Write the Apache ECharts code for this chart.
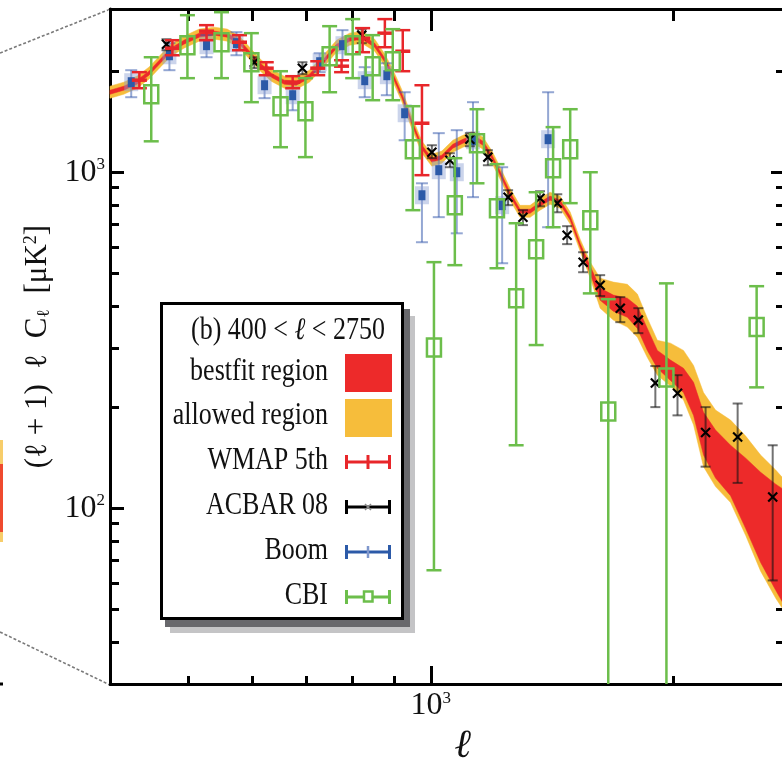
<!DOCTYPE html>
<html>
<head>
<meta charset="utf-8">
<script src="https://cdn.jsdelivr.net/npm/echarts@6/dist/echarts.min.js"></script>
<style>
html,body{margin:0;padding:0;background:#ffffff;}
#chart{width:782px;height:766px;}
</style>
</head>
<body>
<div id="chart"></div>
<script>
// ---------- axes ----------
const xMin = 400, xMax = 2750;
const yMin = 30, yMax = 3060;
const xTicksMajor = [1000];
const xTicksMinor = [500, 600, 700, 800, 900, 2000];
const yTicksMajor = [100, 1000];
const yTicksMinor = [40, 50, 60, 70, 80, 90, 200, 300, 400, 500, 600, 700, 800, 900, 2000];

// ---------- theory bands ----------
const bandEll = [400,416,432,447,463,476,494,516,539,559,579,596,613,634,658,681,707,734,764,793,821,852,877,897,920,947,975,1003,1032,1065,1096,1128,1161,1191,1219,1254,1290,1328,1366,1406,1447,1489,1532,1577,1622,1684,1753,1804,1856,1910,1983,2058,2118,2179,2255,2354,2458,2565,2678,2750];
const allowedHigh = [1803,1853,1931,2054,2245,2404,2540,2666,2702,2666,2540,2355,2184,2026,1931,1919,2012,2214,2471,2593,2628,2488,2245,2026,1766,1468,1237,1132,1156,1245,1288,1325,1271,1156,1035,896,797,797,837,872,848,761,632,540,484,471,464,434,368,316,310,295,266,221,196,183,164,144,130,121];
const bestfitHigh = [1754,1803,1879,1998,2184,2339,2471,2593,2629,2593,2471,2291,2125,1971,1879,1866,1958,2154,2404,2522,2557,2421,2184,1971,1718,1428,1203,1101,1124,1211,1253,1289,1237,1124,1007,872,776,776,814,849,825,740,614,525,452,431,422,399,343,295,276,261,237,193,171,154,141,128,118,113];
const bestfitLow = [1706,1754,1828,1944,2125,2276,2404,2523,2558,2523,2404,2229,2067,1918,1828,1816,1905,2096,2339,2454,2488,2356,2125,1918,1672,1390,1171,1071,1094,1179,1219,1254,1203,1094,979,848,755,755,792,826,803,720,598,497,416,386,370,343,295,261,240,221,189,144,123,109,87,69,57,51];
const allowedLow = [1660,1706,1778,1891,2067,2214,2339,2455,2488,2455,2339,2169,2011,1866,1778,1767,1853,2039,2275,2388,2420,2292,2067,1866,1627,1352,1139,1042,1064,1147,1186,1220,1171,1064,953,825,734,734,771,803,781,701,582,484,394,363,346,323,281,249,231,210,177,133,116,104,83,65,54,49];

// ---------- data sets ----------
const wmapEll  = [435, 478, 527, 579, 625, 674, 724, 775, 823, 877, 923, 975];
const wmapVal  = [1879, 2339, 2629, 2437, 2040, 1853, 2040, 2068, 2505, 2593, 2291, 1399];
const wmapHigh = [1985, 2471, 2739, 2558, 2125, 1931, 2139, 2154, 2684, 2855, 2647, 1815];
const wmapLow  = [1778, 2229, 2471, 2307, 1944, 1778, 1944, 1985, 2276, 2355, 1998, 980];

const acbarEll  = [470, 604, 693, 821, 1003, 1056, 1118, 1177, 1247, 1301, 1366, 1435, 1476, 1545, 1622, 1718, 1809, 1899, 2023, 2192, 2402, 2655];
const acbarVal  = [2404, 2125, 2040, 2558, 1147, 1086, 1254, 1109, 843, 735, 837, 809, 649, 540, 461, 394, 363, 236, 220, 168, 163, 108];
const acbarHigh = [2488, 2199, 2125, 2665, 1203, 1139, 1307, 1163, 884, 771, 878, 860, 691, 578, 494, 425, 394, 265, 249, 200, 205, 154];
const acbarLow  = [2307, 2040, 1958, 2421, 1101, 1035, 1195, 1049, 798, 696, 792, 760, 611, 504, 428, 358, 332, 200, 189, 133, 119, 61];

const boomEll  = [425, 474, 527, 574, 622, 674, 728, 777, 828, 882, 928, 975, 1023, 1077, 1128, 1226, 1398];
const boomVal  = [1853, 2229, 2388, 2421, 1815, 1695, 2125, 2388, 1879, 1944, 1498, 854, 1014, 1000, 1245, 798, 1254];
const boomHigh = [2012, 2421, 2558, 2611, 1944, 1841, 2260, 2647, 2054, 2110, 1730, 927, 1307, 1334, 1616, 1035, 1730];
const boomLow  = [1672, 2012, 2199, 2229, 1661, 1529, 1985, 2154, 1672, 1695, 1245, 619, 735, 658, 843, 536, 686];

const cbiEll  = [450, 499, 550, 599, 651, 699, 749, 800, 847, 897, 950, 1009, 1071, 1141, 1208, 1276, 1351, 1418, 1489, 1577, 1660, 1960, 2536];
const cbiVal  = [1707, 2388, 2437, 2125, 1572, 1519, 2214, 2388, 2068, 2139, 1171, 301, 798, 1220, 781, 422, 590, 1028, 1171, 720, 194, 245, 346];
const cbiHigh = [2199, 2933, 2994, 2593, 1998, 1905, 2720, 2855, 2558, 2665, 1572, 540, 1101, 1540, 1057, 705, 872, 1362, 1540, 1000, 419, 467, 458];
const cbiLow  = [1236, 1905, 1905, 1616, 1187, 1109, 1730, 1905, 1638, 1638, 771, 65.4, 529, 927, 518, 154, 306, 686, 809, 436, 10, 10, 229];

const legendTitle = '(b) 400 < ℓ < 2750';
const legendNames = ['bestfit region', 'allowed region', 'WMAP 5th', 'ACBAR 08', 'Boom', 'CBI'];

// ---------- styling ----------
const SERIF = 'Liberation Serif';
const C_RED = '#ed2a2a', C_YEL = '#f6bd3b', C_WMAP = '#e8262a', C_GREEN = '#6cbe4b', C_BLUE = '#2c5aa8';

const chart = echarts.init(document.getElementById('chart'), null, {renderer: 'canvas'});

function powLabel(v) {
  const e = Math.round(Math.log(v) / Math.LN10);
  return '{b|10}{s|' + e + '}';
}
const labelRich = {
  b: {fontFamily: SERIF, fontSize: 32, color: '#111'},
  s: {fontFamily: SERIF, fontSize: 17, color: '#111', verticalAlign: 'top'}
};

function logAxis(extra) {
  return Object.assign({
    type: 'log', logBase: 10, gridIndex: 0,
    splitLine: {show: false}, minorTick: {show: false}, minorSplitLine: {show: false},
    axisLabel: {show: false}, axisPointer: {show: false}
  }, extra);
}
function tick(len, vals) {
  return {show: true, inside: true, length: len, customValues: vals, lineStyle: {color: '#000', width: 3}};
}
const axLine = {show: true, onZero: false, lineStyle: {color: '#000', width: 3}};

function bandSeries(lowArr, highArr, color, z) {
  return {
    type: 'custom', xAxisIndex: 0, yAxisIndex: 0, z: z, silent: true,
    data: [[bandEll[0], highArr[0]]],
    renderItem: function (params, api) {
      const pts = [];
      for (let i = 0; i < bandEll.length; i++) pts.push(api.coord([bandEll[i], highArr[i]]));
      for (let i = bandEll.length - 1; i >= 0; i--) pts.push(api.coord([bandEll[i], lowArr[i]]));
      return {type: 'polygon', shape: {points: pts}, style: {fill: color, stroke: color, lineWidth: 0.5}};
    }
  };
}

function L(x1, y1, x2, y2, c, w) {
  return {type: 'line', shape: {x1: x1, y1: y1, x2: x2, y2: y2}, style: {stroke: c, lineWidth: w}};
}

function errSeries(name, ell, val, hi, lo, draw, z) {
  return {
    type: 'custom', name: name, xAxisIndex: 0, yAxisIndex: 0, z: z, silent: true,
    data: ell.map(function (e, i) { return [e, val[i], hi[i], lo[i]]; }),
    renderItem: function (params, api) {
      const cs = params.coordSys;
      const x = api.value(0);
      const p = api.coord([x, api.value(1)]);
      const ph = api.coord([x, api.value(2)]);
      const pl = api.coord([x, api.value(3)]);
      const bottom = cs.y + cs.height;
      const clipped = !(pl[1] <= bottom);
      const ly = clipped ? bottom : pl[1];
      return {type: 'group', children: draw(p, ph[1], ly, clipped)};
    }
  };
}

function drawWMAP(p, hy, ly, clipped) {
  const c = C_WMAP, w = 2.5, h = 7.5;
  return [
    L(p[0], hy, p[0], ly, c, w),
    L(p[0] - h, hy, p[0] + h, hy, c, w),
    L(p[0] - h, ly, p[0] + h, ly, c, w),
    L(p[0] - h, p[1], p[0] + h, p[1], c, 3.5)
  ];
}
function drawACBAR(p, hy, ly, clipped) {
  const c = 'rgba(20,20,20,0.6)', w = 2, h = 5, m = 4.5;
  return [
    L(p[0], hy, p[0], ly, c, w),
    L(p[0] - h, hy, p[0] + h, hy, c, w),
    L(p[0] - h, ly, p[0] + h, ly, c, w),
    L(p[0] - m, p[1] - m, p[0] + m, p[1] + m, '#000', 2.2),
    L(p[0] - m, p[1] + m, p[0] + m, p[1] - m, '#000', 2.2)
  ];
}
function drawBoom(p, hy, ly, clipped) {
  const c = 'rgba(60,95,175,0.55)', w = 2, h = 6;
  return [
    L(p[0], hy, p[0], ly, c, w),
    L(p[0] - h, hy, p[0] + h, hy, c, w),
    L(p[0] - h, ly, p[0] + h, ly, c, w),
    {type: 'rect', shape: {x: p[0] - 7, y: p[1] - 9, width: 14, height: 18}, style: {fill: 'rgba(140,160,210,0.45)'}},
    {type: 'rect', shape: {x: p[0] - 3.5, y: p[1] - 5, width: 7, height: 10}, style: {fill: C_BLUE}}
  ];
}
function drawCBI(p, hy, ly, clipped) {
  const c = C_GREEN, w = 2.5, h = 7.5;
  const ch = [
    L(p[0], hy, p[0], ly, c, w),
    L(p[0] - h, hy, p[0] + h, hy, c, w),
    {type: 'rect', shape: {x: p[0] - 7, y: p[1] - 9, width: 14, height: 18}, style: {fill: 'none', stroke: c, lineWidth: w}}
  ];
  if (!clipped) ch.push(L(p[0] - h, ly, p[0] + h, ly, c, w));
  return ch;
}

// ---------- legend (drawn as graphic) ----------
const G = [];
const ZL = 100;
G.push({type: 'rect', z: ZL, shape: {x: 170, y: 316, width: 245, height: 317}, style: {fill: '#c4c4c6'}});
G.push({type: 'rect', z: ZL + 1, shape: {x: 165, y: 309, width: 245, height: 318}, style: {fill: '#68686c'}});
G.push({type: 'rect', z: ZL + 2, shape: {x: 161.5, y: 303.5, width: 241, height: 315}, style: {fill: '#fff', stroke: '#000', lineWidth: 3}});
G.push({type: 'text', z: ZL + 3, x: 385, y: 331, scaleY: 1.2,
  style: {text: '{n|(b) 400 < }{i|ℓ}{n| < 2750}', align: 'right', verticalAlign: 'middle', textAlign: 'right', textVerticalAlign: 'middle',
    rich: {n: {fontFamily: SERIF, fontSize: 26, fill: '#111'}, i: {fontFamily: SERIF, fontSize: 26, fontStyle: 'italic', fill: '#111'}}}});
const rowY = [372, 416, 461, 506, 551, 596];
legendNames.forEach(function (nm, i) {
  G.push({type: 'text', z: ZL + 3, x: 328, y: rowY[i], scaleY: 1.2,
    style: {text: nm, fontFamily: SERIF, fontSize: 26, fill: '#111', align: 'right', verticalAlign: 'middle', textAlign: 'right', textVerticalAlign: 'middle'}});
});
G.push({type: 'rect', z: ZL + 3, shape: {x: 345, y: 354, width: 47, height: 38}, style: {fill: C_RED}});
G.push({type: 'rect', z: ZL + 3, shape: {x: 345, y: 399, width: 47, height: 38}, style: {fill: C_YEL}});
function iconBar(y, c, w) {
  G.push({type: 'line', z: ZL + 3, shape: {x1: 345, y1: y, x2: 391, y2: y}, style: {stroke: c, lineWidth: w}});
  G.push({type: 'line', z: ZL + 3, shape: {x1: 346.5, y1: y - 7, x2: 346.5, y2: y + 7}, style: {stroke: c, lineWidth: 3}});
  G.push({type: 'line', z: ZL + 3, shape: {x1: 389.5, y1: y - 7, x2: 389.5, y2: y + 7}, style: {stroke: c, lineWidth: 3}});
}
iconBar(462, C_WMAP, 3);
G.push({type: 'line', z: ZL + 4, shape: {x1: 368, y1: 455, x2: 368, y2: 469}, style: {stroke: C_WMAP, lineWidth: 3}});
iconBar(507, '#000', 3);
G.push({type: 'line', z: ZL + 4, shape: {x1: 365, y1: 504, x2: 371, y2: 510}, style: {stroke: '#888', lineWidth: 1.5}});
G.push({type: 'line', z: ZL + 4, shape: {x1: 365, y1: 510, x2: 371, y2: 504}, style: {stroke: '#888', lineWidth: 1.5}});
iconBar(552, C_BLUE, 3);
G.push({type: 'line', z: ZL + 4, shape: {x1: 368, y1: 546, x2: 368, y2: 558}, style: {stroke: '#7f97cc', lineWidth: 2.5}});
iconBar(597, C_GREEN, 3);
G.push({type: 'rect', z: ZL + 4, shape: {x: 364, y: 591.5, width: 8.5, height: 10}, style: {fill: '#fff', stroke: C_GREEN, lineWidth: 2.5}});

// neighbouring-panel remnants on the far left
G.push({type: 'line', z: 1, shape: {x1: 0, y1: 53, x2: 108, y2: 10}, style: {stroke: '#7a7a7a', lineWidth: 1.6, lineDash: [3, 2]}});
G.push({type: 'line', z: 1, shape: {x1: 0, y1: 632, x2: 108, y2: 684}, style: {stroke: '#7a7a7a', lineWidth: 1.6, lineDash: [3, 2]}});
G.push({type: 'rect', z: 1, shape: {x: 0, y: 440, width: 3, height: 24}, style: {fill: '#f7cd6a'}});
G.push({type: 'rect', z: 1, shape: {x: 0, y: 464, width: 3, height: 68}, style: {fill: '#ef4a2e'}});
G.push({type: 'rect', z: 1, shape: {x: 0, y: 532, width: 3, height: 10}, style: {fill: '#f7cd6a'}});
G.push({type: 'rect', z: 1, shape: {x: 0, y: 682.5, width: 3, height: 3}, style: {fill: '#000'}});

const option = {
  animation: false,
  backgroundColor: '#ffffff',
  grid: {left: 110, top: 9, width: 675, height: 675, containLabel: false, outerBoundsMode: 'none'},
  xAxis: [
    logAxis({min: xMin, max: xMax, position: 'bottom', axisLine: axLine, axisTick: tick(18, xTicksMajor),
      axisLabel: {show: true, customValues: xTicksMajor, margin: 6, formatter: powLabel, rich: labelRich},
      name: 'ℓ', nameLocation: 'middle', nameGap: 42,
      nameTextStyle: {fontFamily: SERIF, fontSize: 40, fontStyle: 'italic', color: '#111', padding: [0, 0, 0, 30]}}),
    logAxis({min: xMin, max: xMax, position: 'bottom', axisLine: {show: false}, axisTick: tick(8, xTicksMinor)}),
    logAxis({min: xMin, max: xMax, position: 'top', axisLine: axLine, axisTick: tick(22, xTicksMajor)}),
    logAxis({min: xMin, max: xMax, position: 'top', axisLine: {show: false}, axisTick: tick(12, xTicksMinor)})
  ],
  yAxis: [
    logAxis({min: yMin, max: yMax, position: 'left', axisLine: axLine, axisTick: tick(14, yTicksMajor),
      axisLabel: {show: true, customValues: yTicksMajor, margin: 5, formatter: powLabel, rich: labelRich},
      name: '{t|(ℓ + 1)  ℓ  C}{sub|ℓ}{t|  [μK}{sup|2}{t|]}', nameLocation: 'middle', nameGap: 56,
      nameTextStyle: {rich: {
        t: {fontFamily: SERIF, fontSize: 31, color: '#111'},
        sub: {fontFamily: SERIF, fontSize: 18, color: '#111', verticalAlign: 'bottom'},
        sup: {fontFamily: SERIF, fontSize: 18, color: '#111', verticalAlign: 'top'}}}}),
    logAxis({min: yMin, max: yMax, position: 'left', axisLine: {show: false}, axisTick: tick(9, yTicksMinor)}),
    logAxis({min: yMin, max: yMax, position: 'right', axisLine: axLine, axisTick: tick(14, yTicksMajor)}),
    logAxis({min: yMin, max: yMax, position: 'right', axisLine: {show: false}, axisTick: tick(9, yTicksMinor)})
  ],
  series: [
    bandSeries(allowedLow, allowedHigh, C_YEL, 2),
    bandSeries(bestfitLow, bestfitHigh, C_RED, 3),
    errSeries('Boom', boomEll, boomVal, boomHigh, boomLow, drawBoom, 4),
    errSeries('ACBAR 08', acbarEll, acbarVal, acbarHigh, acbarLow, drawACBAR, 5),
    errSeries('WMAP 5th', wmapEll, wmapVal, wmapHigh, wmapLow, drawWMAP, 6),
    errSeries('CBI', cbiEll, cbiVal, cbiHigh, cbiLow, drawCBI, 7)
  ],
  graphic: {elements: G}
};
chart.setOption(option);
</script>
</body>
</html>
